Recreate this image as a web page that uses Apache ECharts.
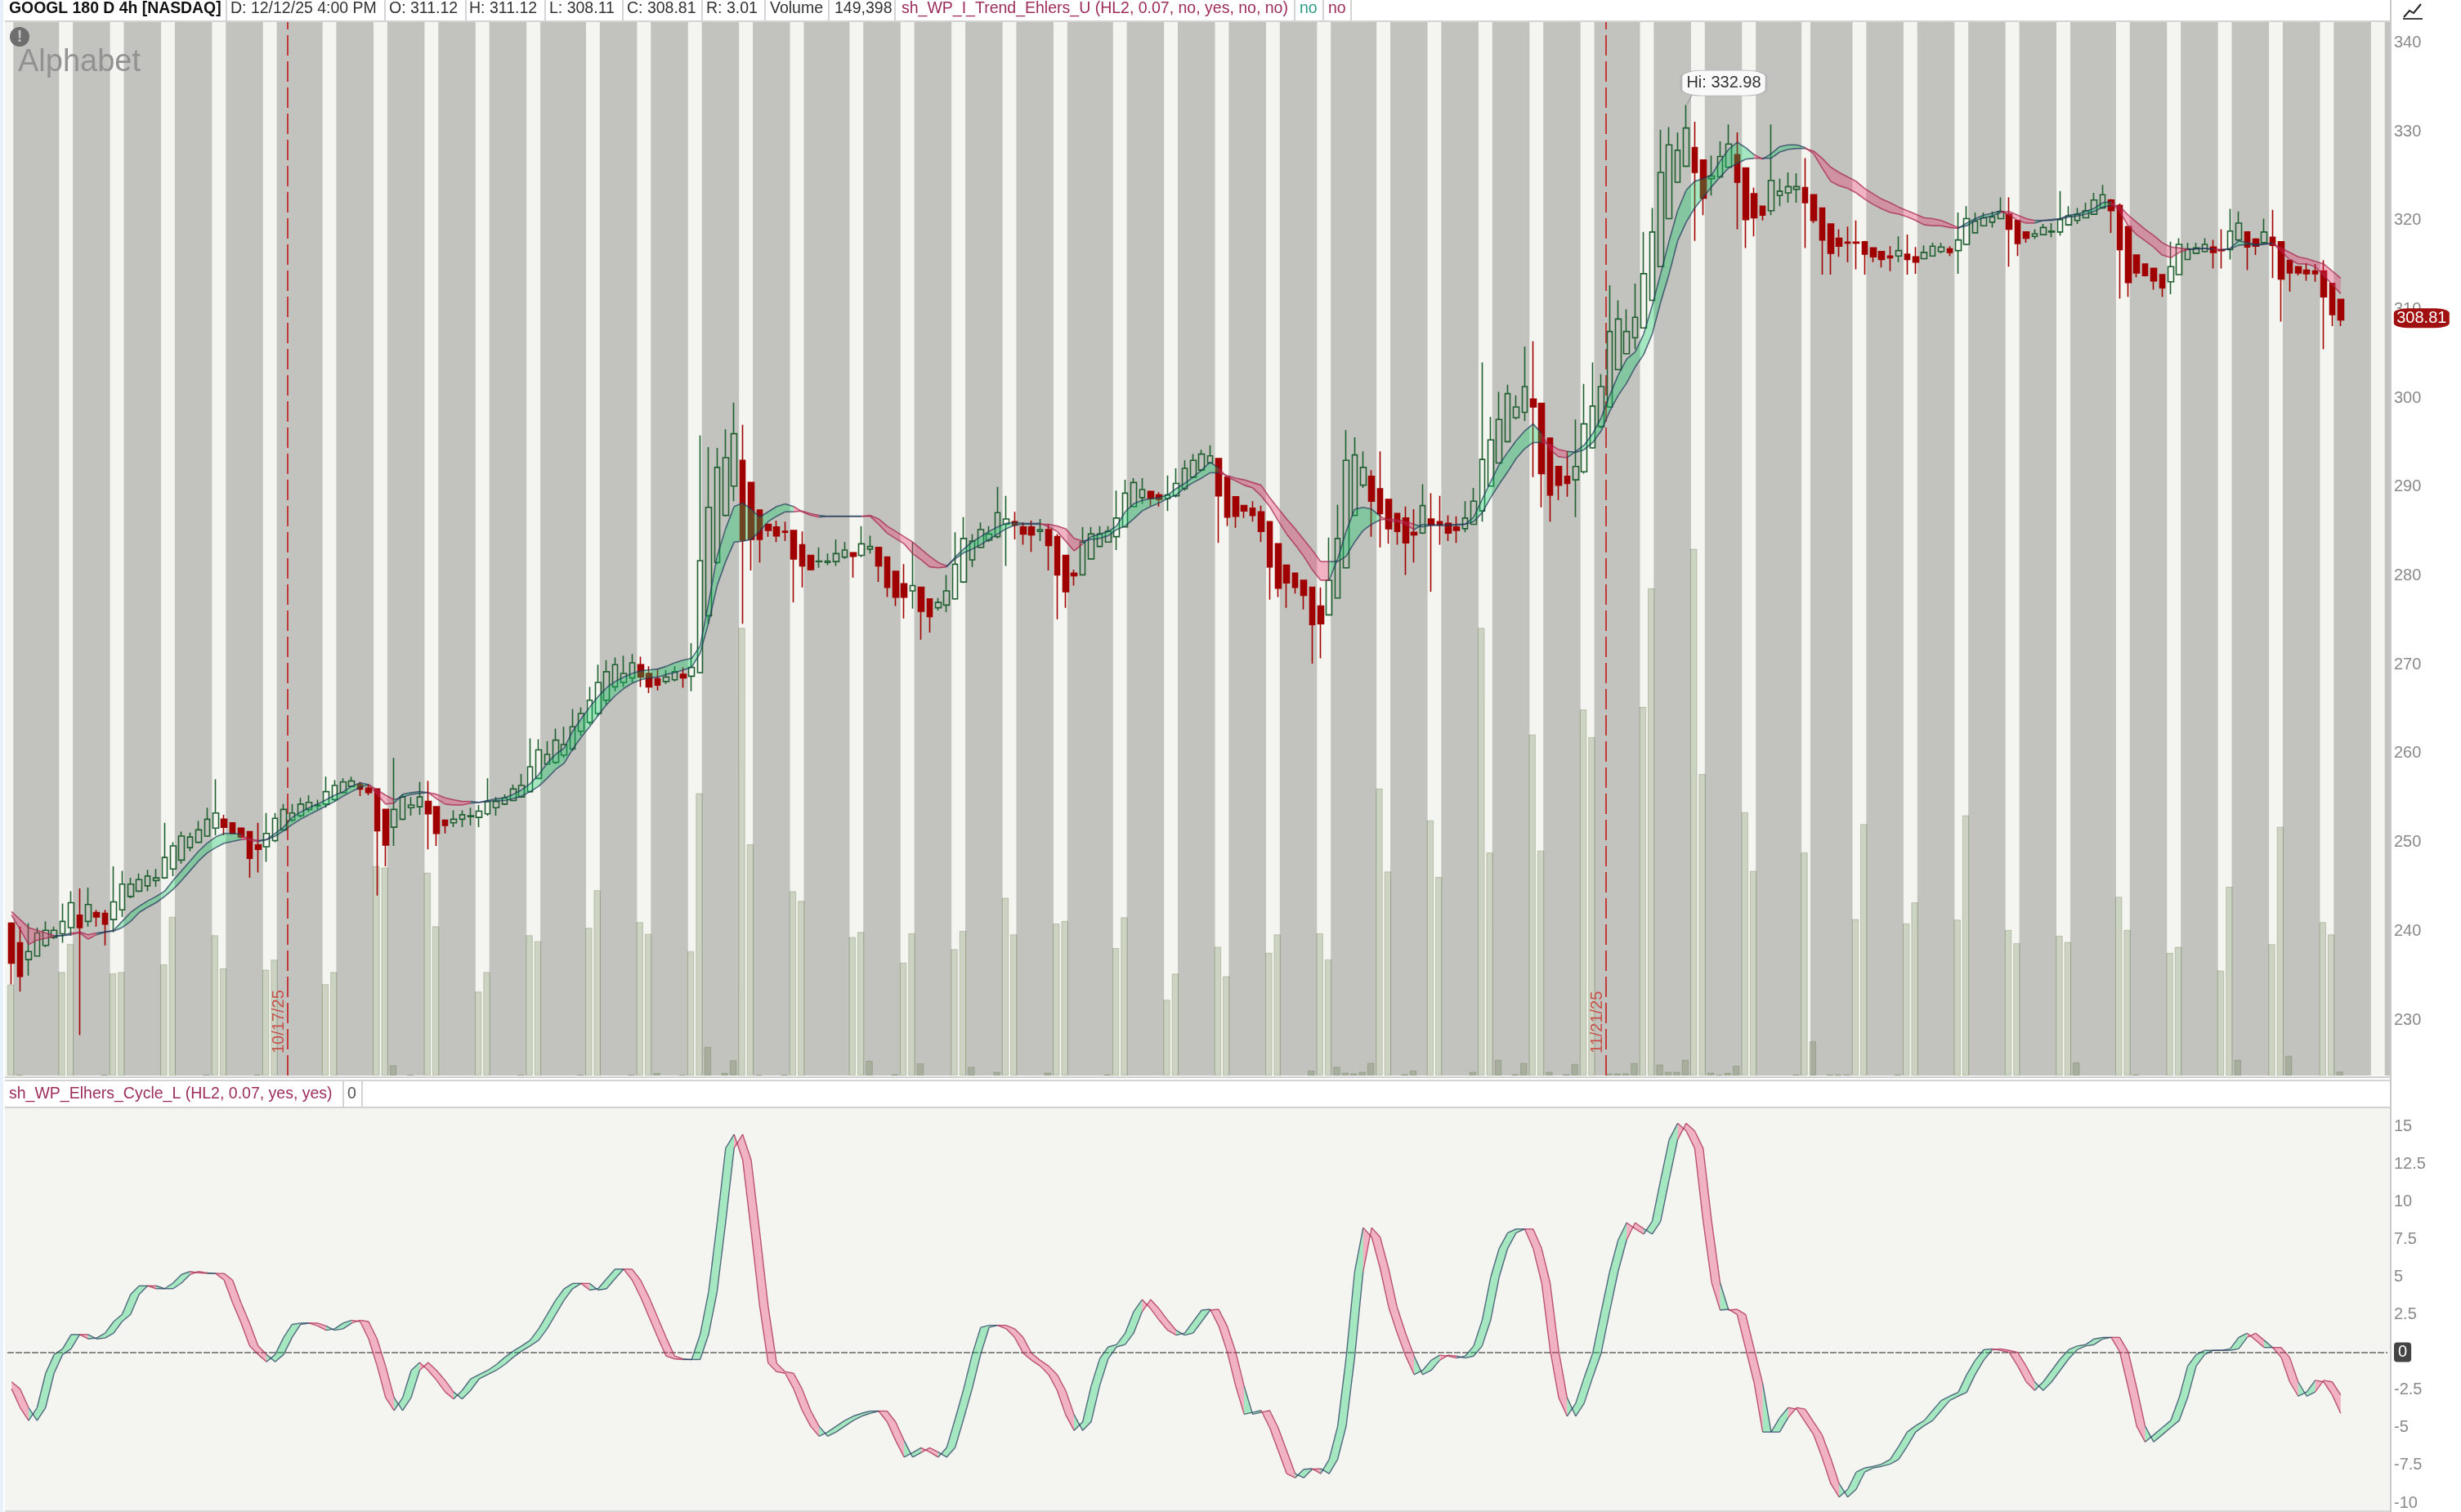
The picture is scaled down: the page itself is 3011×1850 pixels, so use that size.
<!DOCTYPE html>
<html>
<head>
<meta charset="utf-8">
<title>GOOGL 180 D 4h</title>
<script src="https://cdn.jsdelivr.net/npm/echarts@6/dist/echarts.min.js"></script>
<style>
  html, body { margin: 0; padding: 0; background: #fff; }
  #chart { width: 3011px; height: 1850px; }
</style>
</head>
<body>
<div id="chart"></div>
<script>
// price bars
var opens = [240.9,238.7,236.8,237.2,238.4,239.3,239.7,240.4,241.8,241.1,
  242.1,242,241.3,242.4,243.9,244.5,245.1,245.7,246,247,
  248,249.4,250,250.7,251.6,252.6,252.2,251.6,251.2,249.7,
  249.5,250.2,251.4,252.5,253,253.7,254.1,254.3,254.8,255.6,
  256.3,256.5,256.1,256,253.7,251.7,252.6,253.9,254,254.6,
  254,252.5,252.2,252.6,252.9,252.8,253.2,253.9,254.3,254.7,
  255.1,255.7,257.2,258.8,259,259.8,260.5,262.5,263.5,264.5,
  266,267.5,268,268.5,270,269,268.4,268.1,268.3,268.9,
  268.7,269.1,275.5,281.5,286.8,290.1,293,290.5,287.4,285.8,
  285.5,285,285.1,283.5,282.3,281.6,281.5,281.6,282.1,282.6,
  282.3,283,283.2,282.1,280.5,279.1,278.3,278.7,277.4,276.4,
  276.7,277.4,279.3,281.8,283.2,284,284.4,285.8,286.1,285.5,
  285.5,285,285.2,284.4,282.3,280.3,280.1,281.9,283.3,283.8,
  284.4,285.5,287.8,288.8,289.5,289.1,288.7,289,289.8,291.1,
  291.9,292.7,293.2,291.1,288.9,287.9,287.6,287.2,286.1,283.6,
  281.2,280.3,279.5,278.7,276.6,275.6,277.5,280.9,286.8,290.2,
  291.2,289.8,288.6,287,286.5,284.9,284.8,286.4,286.1,285.9,
  285.5,285.3,285.8,287.3,290.1,292.7,295.1,297.8,298.4,299.9,
  299.4,295.5,292.3,291.2,290.8,291.7,294.4,296.8,299,303.2,
  305,306.8,307.9,311,314.8,320.2,324.3,326.1,328.2,326.8,
  324.7,324.9,326,327.4,325.9,323,321.6,321.1,322.8,323.1,
  323.5,323.7,322.9,321.4,319.6,318,317.55,317.55,317.6,316.9,
  316.5,316,316,316.2,315.9,315.7,316,316.5,316.8,316.6,
  317.3,318.6,319.4,319.8,320.2,320.7,320,318.7,318.2,318.4,
  318.7,318.7,319.5,320,320.3,320.7,321.4,322.3,321.7,319.3,
  316.1,315.1,314.6,313.9,313.1,313.9,315.6,316.3,316.5,317,
  316.7,316.7,317.8,318.7,317.9,317.5,318.1,317.6,315.5,314.8,
  314.4,314.3,314.3,312.9,311.12];
var closes = [236.4,234.9,237.7,239.8,240.1,240.1,241.1,243.2,240.4,243,
  241.6,240.8,243.3,245.3,245.3,245.8,246.2,246,248.3,249.6,
  250.7,250.6,251.4,252.6,253.3,251.7,251,250.6,248.2,249.2,
  251,252.7,253.7,253.3,254.3,254.5,254.2,255.7,256.4,256.8,
  256.9,256,255.6,251.3,249.7,253.7,255.1,254.2,255.1,253.2,
  251,251.9,252.6,253.1,253,253.5,254.6,254.6,255,256,
  256.4,258.5,260.4,259.9,261.5,261,263,264.5,266,268,
  269.2,270,269,270.2,268.6,267.5,267.7,268.6,269.2,268.5,
  269.7,281.7,287.7,292.2,293.3,296,284,284.1,284.1,285.1,
  284.5,284.9,281.9,281.1,280.7,281.65,281.65,282.5,282.9,282.2,
  283.6,283.3,281.1,278.7,277.6,277.6,278.9,276,275.4,277,
  278.3,281.3,284.2,283.9,285.2,284.7,287.1,286.4,285.7,284.7,
  284.6,285.2,283.4,280.1,278.2,280,283.8,284.7,284.7,285,
  286.5,289.3,290.5,289.7,288.7,288.6,289.1,290.4,292.1,293,
  293.7,293.5,289,286.6,286.7,287.3,286.8,285,281,278.6,
  279.2,278.7,277.8,274.5,274.6,279.5,284.2,293,293.6,292.2,
  288.4,287,285.3,285,283.7,284.6,287.9,285.7,285.7,284.8,
  285.1,286.5,288.4,293.1,295.3,297.6,300.5,299,301.3,299,
  291.5,289.1,290.2,290.4,292.3,297.1,299.1,301.3,307.5,308.9,
  307.5,309.1,314,318.7,325.4,328.5,327.9,330.4,325.4,322.5,
  325,327.2,328.6,324.3,320.1,320.3,320.6,324.5,323.3,323.8,
  323.8,322,320,317.8,316.3,317.1,317.45,317.45,316.2,315.9,
  315.6,315.8,316.6,315.6,315.3,316.4,317.1,317,316.4,317.8,
  320.2,319.9,320.3,320.4,321,319,317.4,318,318.5,319.2,
  318.8,320.1,320.5,320.7,321.1,322.3,322.9,321.1,316.7,313,
  314.1,313.8,313.2,312.4,314.8,317.3,316.8,316.9,317.3,316.4,
  316.6,318.8,319.7,317,317.1,318.7,317.2,313.4,314.1,314.1,
  314,314,311.4,309.4,308.81];
var lows = [234,233.2,235,237.2,238.2,239.1,238.7,239.5,228.3,240.5,
  240.5,238.4,239.9,241.6,243.7,244.4,244.5,245,245.9,246.2,
  247.6,249,249.9,250.6,250.8,250.8,250.9,250.5,246,246.6,
  247.8,250,251.3,252.3,252.8,253.4,253.7,253.9,254.6,255.5,
  256.2,255.2,255.3,244,247.3,249.6,252.5,253,253.1,249.2,
  249.6,251,251.7,251.7,251.9,251.7,253,253,254.2,254.6,
  255.1,255.6,257.1,258.8,258.8,259.5,260.3,262,263.2,264.2,
  265.5,267,267.5,268,267.5,266.8,267.1,267.8,268.1,267.4,
  267,269,274.6,281.3,286.7,288.4,274.6,280.6,281.5,284.4,
  283.8,283.9,277,278.7,280.6,280.9,281.2,281.1,281.9,279.8,
  282.1,282.5,279.3,277.6,276.6,275.2,276.3,272.8,273.6,276.1,
  275.9,277.3,279.2,281,283.1,283.8,284.2,281.1,284.1,283.5,
  282.7,283.9,280.6,275.1,276.4,278.9,280.1,281.9,283.2,283.8,
  282.9,285.5,287.8,288.1,287.9,287.8,287.3,288.8,289.6,291,
  291.7,292.6,283.7,285.6,285.4,286.5,286.1,283.8,277.3,277.6,
  276.4,278,276.2,270.1,270.7,275.6,277.5,280.8,286.8,289.9,
  284.4,283.2,283.6,283.5,280.1,281.5,284.7,278.2,283.5,283.9,
  283.7,284.9,285.8,286.1,290.1,292.7,295,297.6,297.4,291.1,
  287.7,286.1,288.5,288.9,286.6,291.5,294.3,296.6,298.9,303.2,
  304.9,305.5,307.9,311,314.8,320.1,324.2,326,317.7,320.6,
  322.8,324.8,325.9,319,316.9,318.2,320,320.6,321.6,322,
  322,316.9,319.7,313.9,313.9,315.9,315.3,314.5,313.9,315.3,
  314.7,314.3,315.3,313.9,314,315.6,316,316.3,316,314,
  317.2,318.6,319.3,319.2,320.1,314.8,316,317.5,317.9,318.4,
  318.1,318.3,319.4,319.6,320.3,320.7,321.3,318.6,311.2,311.4,
  313.6,313.7,312.2,311.4,311.7,313.9,315.6,316.3,316.4,314.6,
  314.6,315.6,317.7,314.4,316.1,317.4,313.5,308.6,312,313.8,
  313.2,313.1,305.5,308.1,308.11];
var highs = [241,240.5,240.9,240.4,241.1,240.5,243.1,244.5,244.8,244.9,
  242.4,242.4,247.3,246.8,246,246.5,246.9,247,252.2,250,
  251.2,251.1,252.4,253.9,257.1,253.1,252.2,251.6,251.2,252.2,
  253.3,253.3,254.3,254.3,255,255.3,254.8,257.4,257,257.2,
  257.4,256.8,256.5,256,253.7,259.5,255.4,255.1,256.8,256.9,
  254,252.5,253.6,253.6,253.9,254.2,257.2,255.1,255.4,256.5,
  257.7,261.7,261.6,261.4,262.8,263,265,265.2,267.5,270,
  270.5,270.8,271,271.2,270.9,269.8,269.5,269.4,269.8,269.7,
  272.4,295.8,294.5,294.4,296.5,299.5,297,290.5,287.4,285.8,
  286.2,286.1,285.1,285,282.3,283.2,282.5,284.1,283.8,282.6,
  285.6,284.5,283.2,282.1,280.5,281.3,283.8,278.7,277.4,277.5,
  280.1,284.9,286.6,284.7,286,285.6,290,289,287.2,286,
  286.2,286.4,285.8,284.7,282.3,280.7,285.5,285.5,285.6,285.6,
  289.6,290.8,291,291,289.6,289.4,291.3,292.1,293,293.7,
  294.2,294.7,293.2,291.1,288.9,287.9,288.4,287.9,286.1,283.6,
  281.2,280.3,279.5,278.7,278.7,284.3,288,296.4,295.6,294,
  291.9,294,288.6,287,287.8,287.5,290.3,289.3,289,286.8,
  286.7,288.4,289.9,304,297.9,300.7,301.5,300.3,305.8,306.4,
  299.4,295.5,292.3,294,297.6,301.6,304,302.7,312.7,311,
  310,312.9,318.7,321.4,330.2,330.5,329.9,332.98,331.1,326.8,
  327.3,328.9,330.8,329.9,325.9,323.7,321.6,330.8,324.7,325.4,
  325.3,327,322.9,321.4,319.6,319,319.3,320,317.7,316.9,
  316.5,317.1,318.2,318.4,317,317.2,317.5,317.5,317.1,320.9,
  321.6,320.9,320.9,321,322.6,322.6,320,318.7,319,319.6,
  319.7,323.3,321.6,321.4,322,323.1,324,322.4,321.9,319.3,
  316.1,315.1,314.6,313.9,317.6,318,317.5,317.5,318,317.8,
  319,321.3,321,318.7,318,320.2,321.2,317.6,315.5,314.8,
  315.2,315.1,315.5,312.9,311.12];

// trend band, the two lines of the upper indicator
var trendFast = [241.8,240.2,238.5,239,239.2,239.4,239.5,239.8,239.8,239.1,
  239.6,239.9,240.1,241.1,242.1,242.8,243.4,243.9,244.5,245.7,
  246.8,247.9,249,249.9,250.6,251,251,250.9,250.2,250.1,
  250.3,251,251.7,252.8,253.4,253.9,254.3,254.8,255.3,255.7,
  256.3,256.7,256.5,255.4,254.3,254.4,255.4,255.6,255.7,255.6,
  254.9,254.3,254.2,254.2,254.4,254.5,254.7,254.9,255,255.4,
  255.9,256.6,257.6,258.9,259.9,260.6,262.5,263.9,265.2,266.4,
  267.4,268.1,268.6,269,269.3,269.4,269.5,269.8,270.2,270.5,
  270.7,272.1,277,282.2,285.3,287.8,288.2,287.5,286.6,287.2,
  287.8,288.1,287.8,287.2,286.8,286.6,286.7,286.7,286.7,286.7,
  286.7,286.7,285.8,284.8,284.2,283.6,282.5,281.8,281,280.9,
  281,282.1,283,283.8,284.4,285,285.5,285.9,286,285.9,
  285.9,285.9,285.5,285,283.9,282.8,283.6,284.4,284.7,285,
  285.6,287.2,288.1,288.5,288.7,288.8,289.1,289.8,290.4,291.1,
  291.9,292.8,292.1,291.1,290.7,290.2,289.9,289,287.8,286.2,
  284.7,283.5,282.2,280.7,279.5,279.5,281.9,285,287.5,287.7,
  287.5,286.7,286.2,286.1,285.8,285.2,285.8,285.7,285.7,285.7,
  285.8,285.8,286.6,288.6,290.6,292.5,293.9,295.2,296.3,297.1,
  296,294.2,293.4,293.3,294,294.7,296,297.8,300.3,302.6,
  304.4,305.2,307.2,310.4,314,317.7,321.1,323.4,324.4,324.7,
  325.1,326.7,328,328.8,328.2,327.4,326.9,327.5,328.3,328.5,
  328.5,328.2,327.5,325.9,324.4,323.9,323.6,323.1,322.4,321.8,
  321.3,320.9,320.7,320.4,320,319.5,319.4,319.4,319.2,319.1,
  319.7,320.2,320.6,320.8,321.1,320.6,320,319.7,319.7,320,
  320.1,320.2,320.6,320.7,321,321.35,322,322.1,321,319.4,
  318.4,317.7,317,316.1,315.8,316.4,316.7,316.8,316.85,316.75,
  316.65,316.85,317.7,317.5,317.3,317.35,317.45,316.5,315.6,315.1,
  315.1,314.8,313.8,312.8,311.75];
var trendSlow = [242.2,241.3,240.4,240.1,239.8,239.5,239.5,239.6,239.9,239.6,
  239.8,239.9,240,240.4,241.1,242.1,242.7,243.2,243.9,244.7,
  245.7,246.8,247.9,248.8,249.4,249.9,250.1,250.3,250.4,250.2,
  250.3,250.7,251.3,252,252.6,253.1,253.6,254.1,254.6,255.2,
  255.7,256.2,256.5,255.9,255.3,254.8,255.1,255.4,255.5,255.6,
  255.4,255,254.8,254.6,254.6,254.5,254.6,254.7,254.7,254.9,
  255.2,255.7,256.3,257.2,258.2,258.9,260.5,261.8,263,264.3,
  265.5,266.5,267.3,267.9,268.3,268.5,268.6,268.9,269.1,269.4,
  269.7,271.3,274.7,278.9,281.6,283.8,283.9,284.1,285,286.1,
  286.7,287.2,287.2,287.3,287,286.8,286.7,286.7,286.7,286.7,
  286.7,286.8,286.4,285.6,285,284.4,283.8,283,282.2,281.5,
  281.1,281.9,282.6,283,283.5,284.1,284.7,285.3,285.7,285.8,
  285.8,285.8,285.8,285.6,285.3,284.2,283.9,284.1,284.2,284.5,
  285.2,285.6,286.4,287.3,287.8,288.2,288.7,289.1,289.9,290.5,
  291,291.6,291.6,291.3,291,290.8,290.5,290.2,288.8,287.6,
  286.4,285.3,284.1,282.9,281.6,281.6,281.6,282.2,283.8,285.1,
  285.8,286.3,286.4,286.3,286.1,285.8,285.5,285.7,285.7,285.7,
  285.7,285.8,286.1,287.1,288.8,290.3,291.7,293.2,294.3,295,
  295,294.8,294.2,294,293.9,294.2,295,296.3,298.5,300.3,
  301.7,303.5,304.9,307.2,310.8,314,317.7,319.8,321.4,322.6,
  323.8,324.9,325.9,326.4,326.9,327,327,327,327.7,328,
  328.1,328.1,327.8,327,326,325.4,324.9,324.4,323.6,323,
  322.4,322,321.5,321.1,320.7,320.3,320.2,320,319.6,319.2,
  319.4,320,320.3,320.5,320.9,321,320.6,320.2,320,320,
  320,320.15,320.4,320.5,320.7,321,321.5,321.7,321.6,320.6,
  319.8,319,318.3,317.5,317,316.9,316.75,316.8,316.85,316.75,
  316.7,316.8,317.2,317.3,317.2,317.3,317.4,316.9,316.4,315.9,
  315.7,315.4,315.1,314.3,313.5];

// cycle panel, the leading line and the line one bar behind it
var cycleFast = [-2.43,-3.67,-4.53,-3.67,-1.39,-0.15,0.23,1.18,1.18,0.89,
  0.95,1.27,2.04,2.51,3.84,4.41,4.41,4.22,4.22,4.6,
  5.17,5.36,5.27,5.23,5.23,4.79,3.27,1.94,0.42,-0.15,
  -0.63,-0.15,0.99,1.85,1.94,1.94,1.75,1.46,1.56,1.94,
  2.13,2.04,0.89,-0.91,-3.01,-3.86,-3.01,-1.2,-0.67,-1.2,
  -1.86,-2.63,-3.1,-2.53,-1.77,-1.48,-1.2,-0.82,-0.34,0.08,
  0.42,0.8,1.56,2.51,3.46,4.22,4.57,4.57,4.13,4.22,
  4.89,5.52,5.52,4.79,3.65,2.32,0.99,-0.25,-0.44,-0.48,
  -0.48,1.18,4.03,8.6,13.54,14.46,12.78,8.03,3.08,-0.72,
  -1.29,-1.39,-2.43,-3.86,-4.91,-5.57,-5.29,-4.91,-4.53,-4.24,
  -4.05,-3.9,-3.9,-4.62,-5.86,-6.96,-6.66,-6.33,-6.62,-6.96,
  -6.33,-4.43,-2.43,-0.15,1.65,1.79,1.79,1.56,0.99,-0.06,
  -0.53,-0.91,-1.48,-2.53,-4.15,-5.19,-4.62,-2.24,-0.44,0.36,
  0.51,1.27,2.7,3.5,2.89,2.13,1.46,1.14,1.27,2.04,
  2.8,2.85,1.75,0.04,-2.24,-4.11,-3.99,-3.86,-5,-6.52,
  -8.05,-8.33,-7.76,-7.72,-8.05,-7.1,-4.91,-0.34,5.36,8.27,
  7.65,5.55,2.99,1.27,-0.25,-1.48,-1.2,-0.53,-0.19,-0.25,
  -0.38,-0.25,0.42,2.13,4.98,6.89,7.93,8.18,8.18,6.89,
  4.6,0.13,-3.01,-4.24,-3.39,-1.67,-0.06,2.7,5.36,7.46,
  8.6,8.2,7.84,8.69,11.45,14.11,15.2,14.69,13.54,8.69,
  4.6,2.8,2.85,2.51,0.23,-2.05,-5.29,-5.29,-4.34,-3.67,
  -3.77,-4.62,-5.48,-7,-8.71,-9.61,-9.09,-7.95,-7.67,-7.57,
  -7.42,-7.1,-6.24,-5.29,-4.87,-4.53,-3.86,-3.2,-2.91,-2.66,
  -1.48,-0.53,0.17,0.23,0.13,0,-0.91,-1.96,-2.53,-1.96,
  -1.2,-0.44,0.17,0.42,0.51,0.89,0.99,0.99,0.04,-2.34,
  -4.91,-5.95,-5.48,-5,-4.53,-3.01,-0.91,-0.15,0.13,0.13,
  0.13,0.23,0.99,1.27,0.8,0.32,0.32,-0.34,-1.96,-2.91,
  -2.63,-1.86,-1.96,-2.82,-4.05];
var cycleLag = [-1.96,-2.43,-3.67,-4.53,-3.67,-1.39,-0.15,0.23,1.18,1.18,
  0.89,0.95,1.27,2.04,2.51,3.84,4.41,4.41,4.22,4.22,
  4.6,5.17,5.36,5.27,5.23,5.23,4.79,3.27,1.94,0.42,
  -0.15,-0.63,-0.15,0.99,1.85,1.94,1.94,1.75,1.46,1.56,
  1.94,2.13,2.04,0.89,-0.91,-3.01,-3.86,-3.01,-1.2,-0.67,
  -1.2,-1.86,-2.63,-3.1,-2.53,-1.77,-1.48,-1.2,-0.82,-0.34,
  0.08,0.42,0.8,1.56,2.51,3.46,4.22,4.57,4.57,4.13,
  4.22,4.89,5.52,5.52,4.79,3.65,2.32,0.99,-0.25,-0.44,
  -0.48,-0.48,1.18,4.03,8.6,13.54,14.46,12.78,8.03,3.08,
  -0.72,-1.29,-1.39,-2.43,-3.86,-4.91,-5.57,-5.29,-4.91,-4.53,
  -4.24,-4.05,-3.9,-3.9,-4.62,-5.86,-6.96,-6.66,-6.33,-6.62,
  -6.96,-6.33,-4.43,-2.43,-0.15,1.65,1.79,1.79,1.56,0.99,
  -0.06,-0.53,-0.91,-1.48,-2.53,-4.15,-5.19,-4.62,-2.24,-0.44,
  0.36,0.51,1.27,2.7,3.5,2.89,2.13,1.46,1.14,1.27,
  2.04,2.8,2.85,1.75,0.04,-2.24,-4.11,-3.99,-3.86,-5,
  -6.52,-8.05,-8.33,-7.76,-7.72,-8.05,-7.1,-4.91,-0.34,5.36,
  8.27,7.65,5.55,2.99,1.27,-0.25,-1.48,-1.2,-0.53,-0.19,
  -0.25,-0.38,-0.25,0.42,2.13,4.98,6.89,7.93,8.18,8.18,
  6.89,4.6,0.13,-3.01,-4.24,-3.39,-1.67,-0.06,2.7,5.36,
  7.46,8.6,8.2,7.84,8.69,11.45,14.11,15.2,14.69,13.54,
  8.69,4.6,2.8,2.85,2.51,0.23,-2.05,-5.29,-5.29,-4.34,
  -3.67,-3.77,-4.62,-5.48,-7,-8.71,-9.61,-9.09,-7.95,-7.67,
  -7.57,-7.42,-7.1,-6.24,-5.29,-4.87,-4.53,-3.86,-3.2,-2.91,
  -2.66,-1.48,-0.53,0.17,0.23,0.13,0,-0.91,-1.96,-2.53,
  -1.96,-1.2,-0.44,0.17,0.42,0.51,0.89,0.99,0.99,0.04,
  -2.34,-4.91,-5.95,-5.48,-5,-4.53,-3.01,-0.91,-0.15,0.13,
  0.13,0.13,0.23,0.99,1.27,0.8,0.32,0.32,-0.34,-1.96,
  -2.91,-2.63,-1.86,-1.96,-2.82];

// volume in millions of shares as [bar, volume]
var volumeBars = [[0,3.45],[1,.03],[6,3.93],[7,5],[11,.03],[12,3.88],[13,3.93],[18,4.22],[19,6.03],[23,.03],
  [24,5.33],[25,4.07],[29,.03],[30,4.02],[31,4.4],[37,3.47],[38,3.93],[43,7.95],[44,7.9],[45,.39],
  [47,.03],[49,7.7],[50,5.67],[55,3.19],[56,3.93],[60,.03],[61,5.33],[62,5.1],[67,.03],[68,5.61],
  [69,7.04],[73,.03],[74,5.83],[75,5.38],[76,.1],[79,.03],[80,4.72],[81,10.72],[82,1.09],[84,.1],
  [85,.58],[86,17],[87,8.78],[88,.03],[91,.03],[92,7],[93,6.63],[99,5.26],[100,5.45],[101,.56],
  [104,.05],[105,4.29],[106,5.4],[107,.46],[111,4.8],[112,5.49],[113,.33],[116,.14],[117,6.75],[118,5.36],
  [122,.11],[123,5.77],[124,5.87],[129,.04],[130,4.84],[131,6.01],[136,2.88],[137,3.87],[142,4.89],[143,3.77],
  [148,4.66],[149,5.36],[153,.19],[154,5.4],[155,4.41],[156,.33],[157,.11],[158,.08],[159,.14],[160,.48],
  [161,10.9],[162,7.75],[164,.05],[165,.19],[167,9.69],[168,7.54],[172,.14],[173,17],[174,8.47],[175,.6],
  [177,.05],[178,.48],[179,12.95],[180,8.54],[181,.14],[183,.05],[184,.44],[185,13.9],[186,12.85],[188,.08],
  [189,.08],[190,.08],[191,.48],[192,14],[193,18.5],[194,.42],[195,.14],[196,.14],[197,.6],[198,20],
  [199,11.45],[200,.11],[201,.03],[202,.1],[203,.37],[204,10],[205,7.77],[210,.04],[211,8.47],[212,1.3],
  [214,.04],[215,.04],[216,.04],[217,5.94],[218,9.55],[222,.04],[223,5.78],[224,6.58],[229,5.92],[230,9.88],
  [235,5.53],[236,5.03],[241,5.31],[242,5.07],[243,.5],[248,6.79],[249,5.53],[250,.04],[254,4.66],[255,4.89],
  [260,3.99],[261,7.17],[262,.6],[266,4.99],[267,9.45],[268,.75],[272,5.83],[273,5.36],[274,.15]];

// first bar of each regular session, the half day has one bar only
var sessionStarts = [-1,6,12,18,24,30,37,43,49,55,61,68,74,80,86,92,99,105,111,117,123,130,136,142,148,154,
  161,167,173,179,185,192,198,204,211,217,223,229,235,241,248,254,260,266,272,278];
var halfDays = [211];

var priceTicks = [230, 340];
var cycleTicks = [-10, 15];
var dateLines = [{at: 32.5, label: '10/17/25'}, {at: 187.6, label: '11/21/25'}];
var lastPrice = 308.81;
var hiPrice = 332.98;
var hiBar = 197;

var bars = [];
for (var b = 0; b < 280; b++) bars.push(String(b));

var font = '"Liberation Sans", Arial, sans-serif';
var crimson = '#9C2C5C';

var chart = echarts.init(document.getElementById('chart'));

function bandRows(a, b) {
  var rows = [];
  for (var i = 0; i < a.length - 1; i++) rows.push([i, a[i], b[i], a[i + 1], b[i + 1]]);
  return rows;
}

// one filled piece between two bars, green while the fast line is on top
function bandRenderer(lineWidth) {
  return function (params, api) {
    var i = api.value(0);
    var f0 = api.coord([i, api.value(1)]);
    var s0 = api.coord([i, api.value(2)]);
    var f1 = api.coord([i + 1, api.value(3)]);
    var s1 = api.coord([i + 1, api.value(4)]);
    var up = api.value(3) >= api.value(4);
    var fill = up ? 'rgba(10,205,100,0.34)' : 'rgba(238,45,105,0.33)';
    var stroke = up ? 'rgba(35,55,90,0.72)' : 'rgba(165,35,75,0.72)';
    return {
      type: 'group',
      children: [
        {type: 'polygon', shape: {points: [f0, f1, s1, s0]}, style: {fill: fill}},
        {type: 'polyline', shape: {points: [f0, f1]}, style: {stroke: stroke, fill: null, lineWidth: lineWidth}},
        {type: 'polyline', shape: {points: [s0, s1]}, style: {stroke: stroke, fill: null, lineWidth: lineWidth}}
      ]
    };
  };
}

// header rows
var headerCells = [
  {text: 'GOOGL 180 D 4h [NASDAQ]', x: 11, bold: true, color: '#111'},
  {text: 'D: 12/12/25 4:00 PM', x: 282},
  {text: 'O: 311.12', x: 476},
  {text: 'H: 311.12', x: 574},
  {text: 'L: 308.11', x: 672},
  {text: 'C: 308.81', x: 767},
  {text: 'R: 3.01', x: 864},
  {text: 'Volume', x: 942},
  {text: '149,398', x: 1021},
  {text: 'sh_WP_I_Trend_Ehlers_U (HL2, 0.07, no, yes, no, no)', x: 1103, color: crimson},
  {text: 'no', x: 1590, color: '#2E9B84'},
  {text: 'no', x: 1625, color: crimson}
];
var headerSeps = [277, 471, 570, 667, 762, 859, 936, 1014, 1095, 1584, 1619, 1653];
var lowerCells = [
  {text: 'sh_WP_Elhers_Cycle_L (HL2, 0.07, yes, yes)', x: 11, color: crimson},
  {text: '0', x: 425, color: '#555'}
];
var lowerSeps = [420, 443];

function hLine(y, x1, x2, color) {
  return {type: 'line', shape: {x1: x1, y1: y, x2: x2, y2: y}, style: {stroke: color, lineWidth: 2}, silent: true, z: 30};
}
function vLine(x, y1, y2, color) {
  return {type: 'line', shape: {x1: x, y1: y1, x2: x, y2: y2}, style: {stroke: color, lineWidth: 2}, silent: true, z: 30};
}
function cellText(c, y) {
  return {type: 'text', x: c.x, y: y, silent: true, z: 31, style: {
    text: c.text, fill: c.color || '#333', font: (c.bold ? 'bold 19.4px ' : '19.5px ') + font, textVerticalAlign: 'middle'
  }};
}

var graphics = [
  {type: 'rect', shape: {x: 0, y: 0, width: 4, height: 1850}, style: {fill: '#E6F1FB'}, silent: true, z: 30},
  hLine(26, 6, 2925, '#D4D4D4'),
  hLine(1318, 6, 2925, '#CFCFCF'),
  hLine(1322, 6, 2925, '#D4D4D4'),
  hLine(1355, 6, 2925, '#D0D0D0'),
  hLine(1849, 6, 2925, '#D8D8D8'),
  vLine(2925, 0, 1850, '#C9C9C9'),
  // exclamation badge and name
  {type: 'circle', shape: {cx: 24, cy: 45, r: 12}, style: {fill: '#6E6E6E'}, silent: true, z: 30},
  {type: 'text', x: 24, y: 45, silent: true, z: 31, style: {
    text: '!', fill: '#C2C3BE', font: 'bold 20px ' + font, textAlign: 'center', textVerticalAlign: 'middle'}},
  {type: 'text', x: 22, y: 77, silent: true, z: 31, style: {
    text: 'Alphabet', fill: '#929390', font: '38px ' + font, textVerticalAlign: 'middle'}},
  // hi label stem and the small icon in the corner
  {type: 'line', shape: {x1: 2070, y1: 116, x2: 2064, y2: 128}, style: {stroke: '#A0A0A0', lineWidth: 1.5}, silent: true, z: 30},
  {type: 'polyline', shape: {points: [[2941, 21], [2948, 13], [2953, 16], [2962, 5]]},
    style: {stroke: '#222', fill: null, lineWidth: 2}, silent: true, z: 30},
  hLine(23, 2940, 2964, '#444')
];
headerSeps.forEach(function (x) { graphics.push(vLine(x, 0, 26, '#D4D4D4')); });
lowerSeps.forEach(function (x) { graphics.push(vLine(x, 1322, 1355, '#D4D4D4')); });
headerCells.forEach(function (c) { graphics.push(cellText(c, 11)); });
lowerCells.forEach(function (c) { graphics.push(cellText(c, 1339)); });

var axisText = {color: '#8A8A8A', fontSize: 20, fontFamily: font, margin: 8};

var option = {
  animation: false,
  backgroundColor: '#fff',
  graphic: {elements: graphics},
  grid: [
    {left: 6, top: 27, width: 2919, height: 1289, show: true, backgroundColor: '#C2C3BE', borderWidth: 0},
    {left: 9, top: 52.3, width: 2912, height: 1195.7},
    {left: 6, top: 1356, width: 2919, height: 493, show: true, backgroundColor: '#F4F5F0', borderWidth: 0},
    {left: 9, top: 1378, width: 2912, height: 461}
  ],
  xAxis: [
    {gridIndex: 0, type: 'value', min: -0.79, max: 279.9, show: false},
    {gridIndex: 1, type: 'category', data: bars, show: false},
    {gridIndex: 3, type: 'category', data: bars, show: false}
  ],
  yAxis: [
    {gridIndex: 0, type: 'value', min: 0, max: 40, show: false},
    {gridIndex: 1, type: 'value', position: 'right', min: priceTicks[0], max: priceTicks[1], interval: 10,
      splitLine: {show: false}, axisLine: {show: false}, axisTick: {show: false}, axisLabel: axisText},
    {gridIndex: 3, type: 'value', position: 'right', min: cycleTicks[0], max: cycleTicks[1], interval: 2.5,
      splitLine: {show: false}, axisLine: {show: false}, axisTick: {show: false},
      axisLabel: {
        color: '#8A8A8A', fontSize: 20, fontFamily: font, margin: 8,
        formatter: function (v) { return v === 0 ? '{zero|0}' : String(v); },
        rich: {zero: {color: '#fff', backgroundColor: '#444', borderRadius: 4, padding: [2, 5], fontSize: 20, fontFamily: font}}
      }}
  ],
  series: [
    {
      name: 'Volume',
      type: 'bar',
      xAxisIndex: 0,
      yAxisIndex: 0,
      z: 2,
      barWidth: 8.5,
      // the bars sit a little left of the candle centres in the original
      data: volumeBars.map(function (v) { return [v[0] - 0.1, v[1]]; }),
      itemStyle: {color: 'rgba(94,117,67,0.26)', borderColor: 'rgba(94,117,67,0.3)', borderWidth: 1},
      markArea: {
        silent: true,
        z: 1,
        itemStyle: {color: '#F4F5F0'},
        data: sessionStarts.map(function (s) {
          var end = halfDays.indexOf(s) >= 0 ? s + 0.63 : s + 1.2;
          return [{xAxis: Math.max(s - 0.42, -0.79)}, {xAxis: Math.min(end, 279.9)}];
        })
      },
      markLine: {
        silent: true,
        z: 3,
        symbol: 'none',
        lineStyle: {color: '#C23A3A', type: [25, 7], width: 2},
        data: dateLines.map(function (d) {
          return {
            xAxis: d.at,
            label: {show: true, formatter: d.label, position: 'insideStartTop', distance: [27, 1],
              color: '#C8504A', fontSize: 20, fontFamily: font}
          };
        })
      }
    },
    {
      name: 'GOOGL',
      type: 'candlestick',
      xAxisIndex: 1,
      yAxisIndex: 1,
      z: 6,
      clip: false,
      barWidth: 7,
      data: opens.map(function (o, i) { return [o, closes[i], lows[i], highs[i]]; }),
      itemStyle: {color: 'transparent', color0: '#A00000', borderColor: '#1F5F30', borderColor0: '#A00000', borderWidth: 1.6},
      markPoint: {
        silent: true,
        z: 20,
        data: [
          {coord: [hiBar, hiPrice], symbol: 'roundRect', symbolSize: [104, 31], symbolOffset: [46, -27],
            itemStyle: {color: '#F9F9F9', borderColor: '#B5B5B5', borderWidth: 1.5},
            label: {show: true, position: 'inside', formatter: 'Hi: ' + hiPrice, color: '#333', fontSize: 20, fontFamily: font}},
          {coord: [opens.length - 1, lastPrice], symbol: 'roundRect', symbolSize: [68, 24], symbolOffset: [99, -2],
            itemStyle: {color: '#A01010'},
            label: {show: true, position: 'inside', formatter: String(lastPrice), color: '#fff', fontSize: 20, fontFamily: font}}
        ]
      }
    },
    {
      name: 'sh_WP_I_Trend_Ehlers_U',
      type: 'custom',
      xAxisIndex: 1,
      yAxisIndex: 1,
      z: 7,
      clip: false,
      silent: true,
      encode: {x: 0, y: [1, 2, 3, 4]},
      data: bandRows(trendFast, trendSlow),
      renderItem: bandRenderer(1.6)
    },
    {
      name: 'sh_WP_Elhers_Cycle_L',
      type: 'custom',
      xAxisIndex: 2,
      yAxisIndex: 2,
      z: 7,
      clip: false,
      silent: true,
      encode: {x: 0, y: [1, 2, 3, 4]},
      data: bandRows(cycleFast, cycleLag),
      renderItem: bandRenderer(1.4),
      markLine: {
        silent: true,
        z: 4,
        symbol: 'none',
        label: {show: false},
        lineStyle: {color: '#666', type: [8, 2], width: 1.6},
        data: [{yAxis: 0}]
      }
    }
  ]
};

chart.setOption(option);
</script>
</body>
</html>
